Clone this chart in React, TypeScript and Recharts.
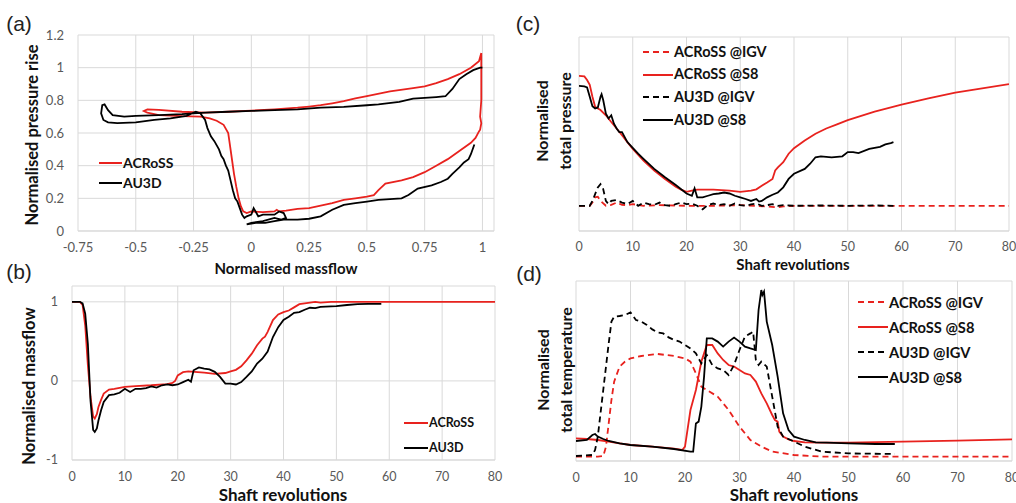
import React from 'react';
import { LineChart, Line, XAxis, YAxis, CartesianGrid, Legend } from 'recharts';

type P = [number, number];

// ---------- Panel (a): normalised pressure rise vs normalised massflow ----------
const loopAcross: P[] = [
  [0.995, 1.09], [0.985, 1.04], [0.95, 1.0], [0.9, 0.96], [0.85, 0.93], [0.8, 0.905], [0.75, 0.885],
  [0.7, 0.875], [0.6, 0.855], [0.5, 0.826], [0.45, 0.812], [0.4, 0.795], [0.35, 0.782], [0.3, 0.77],
  [0.25, 0.762], [0.2, 0.755], [0.1, 0.745], [0, 0.737], [-0.1, 0.73], [-0.2, 0.725], [-0.3, 0.73],
  [-0.4, 0.742], [-0.45, 0.745], [-0.465, 0.735], [-0.45, 0.725], [-0.4, 0.71], [-0.3, 0.703],
  [-0.22, 0.7], [-0.18, 0.69], [-0.15, 0.675], [-0.12, 0.65], [-0.1, 0.6], [-0.095, 0.55],
  [-0.085, 0.45], [-0.075, 0.35], [-0.065, 0.27], [-0.055, 0.2], [-0.045, 0.15], [-0.035, 0.12],
  [-0.02, 0.11], [0, 0.12], [0.05, 0.115], [0.1, 0.12], [0.11, 0.13], [0.12, 0.12], [0.15, 0.125],
  [0.2, 0.135], [0.25, 0.14], [0.3, 0.155], [0.35, 0.17], [0.4, 0.19], [0.45, 0.2], [0.5, 0.21],
  [0.53, 0.22], [0.55, 0.25], [0.58, 0.29], [0.65, 0.31], [0.7, 0.33], [0.75, 0.36], [0.8, 0.4],
  [0.85, 0.44], [0.9, 0.49], [0.95, 0.54], [0.97, 0.57], [0.985, 0.61], [0.99, 0.62], [0.995, 0.66],
  [0.99, 0.7], [0.995, 0.8], [0.995, 0.95], [0.995, 1.09],
];
const loopAu3d: P[] = [
  [1.0, 1.0], [0.99, 1.0], [0.96, 0.985], [0.93, 0.96], [0.9, 0.93], [0.87, 0.87], [0.84, 0.825],
  [0.8, 0.82], [0.75, 0.815], [0.7, 0.81], [0.64, 0.79], [0.55, 0.775], [0.5, 0.77], [0.4, 0.76],
  [0.3, 0.755], [0.2, 0.745], [0.1, 0.74], [0, 0.735], [-0.1, 0.73], [-0.2, 0.725], [-0.3, 0.715],
  [-0.4, 0.71], [-0.5, 0.705], [-0.55, 0.7], [-0.6, 0.71], [-0.62, 0.74], [-0.635, 0.775],
  [-0.645, 0.77], [-0.65, 0.72], [-0.64, 0.68], [-0.62, 0.665], [-0.58, 0.66], [-0.5, 0.665],
  [-0.42, 0.68], [-0.35, 0.69], [-0.28, 0.705], [-0.24, 0.73], [-0.22, 0.72], [-0.2, 0.68],
  [-0.19, 0.63], [-0.175, 0.58], [-0.16, 0.55], [-0.14, 0.5], [-0.13, 0.46], [-0.12, 0.44],
  [-0.11, 0.4], [-0.1, 0.37], [-0.09, 0.31], [-0.08, 0.25], [-0.07, 0.2], [-0.06, 0.18],
  [-0.05, 0.14], [-0.04, 0.1], [-0.03, 0.08], [-0.02, 0.09], [0, 0.1], [0.01, 0.14], [0.03, 0.09],
  [0.05, 0.1], [0.08, 0.1], [0.1, 0.1], [0.12, 0.12], [0.14, 0.11], [0.15, 0.08], [0.13, 0.07],
  [0.1, 0.08], [0.05, 0.06], [0.0, 0.05], [-0.02, 0.04], [0.02, 0.05], [0.06, 0.05], [0.1, 0.06],
  [0.14, 0.07], [0.16, 0.07], [0.2, 0.07], [0.25, 0.075], [0.3, 0.09], [0.35, 0.13], [0.4, 0.16],
  [0.45, 0.17], [0.5, 0.18], [0.55, 0.19], [0.6, 0.195], [0.65, 0.2], [0.68, 0.22], [0.72, 0.26],
  [0.78, 0.28], [0.82, 0.3], [0.85, 0.32], [0.87, 0.35], [0.9, 0.39], [0.92, 0.42], [0.94, 0.44],
  [0.95, 0.47], [0.96, 0.51], [0.965, 0.53],
];
const aXTicks = [-0.75, -0.5, -0.25, 0, 0.25, 0.5, 0.75, 1];
const aYTicks = [0, 0.2, 0.4, 0.6, 0.8, 1, 1.2];

// ---------- Panel (b): normalised massflow vs shaft revolutions ----------
const massAcross: P[] = [
  [0, 1], [1.5, 1], [2, 0.96], [2.5, 0.7], [3, 0.2], [3.5, -0.2], [4, -0.45], [4.3, -0.475],
  [4.7, -0.42], [5, -0.33], [5.5, -0.24], [6, -0.16], [7, -0.11], [8, -0.1], [10, -0.076],
  [12, -0.065], [15, -0.055], [18, -0.04], [19, -0.025], [19.5, 0], [20, 0.07], [21, 0.11],
  [22, 0.12], [25, 0.105], [27, 0.09], [29, 0.1], [30, 0.12], [31, 0.14], [32, 0.185], [33, 0.26],
  [34, 0.345], [35, 0.45], [36, 0.535], [36.5, 0.56], [37, 0.62], [38, 0.77], [39, 0.84],
  [40, 0.87], [41, 0.89], [42, 0.93], [43, 0.97], [44, 0.98], [45, 0.99], [46, 1.0], [47, 0.99],
  [49, 1.0], [55, 1.0], [80, 1.0],
];
const massAu3d: P[] = [
  [0, 1], [1.5, 1], [2, 0.98], [2.5, 0.85], [3, 0.47], [3.5, -0.25], [4, -0.62], [4.3, -0.645],
  [4.7, -0.6], [5, -0.5], [5.5, -0.37], [6, -0.265], [7, -0.18], [8, -0.17], [9, -0.15],
  [10, -0.1], [11, -0.14], [12, -0.1], [13, -0.1], [14, -0.09], [15, -0.07], [16, -0.085],
  [17, -0.055], [18, -0.045], [19, -0.055], [20, -0.045], [21, -0.015], [22, 0.015], [22.5, -0.01],
  [23, 0.135], [24, 0.17], [25, 0.155], [26, 0.145], [27, 0.115], [28, 0.05], [29, -0.035],
  [30, -0.035], [31, -0.045], [32, -0.015], [33, 0.05], [34, 0.12], [35, 0.22], [36, 0.28],
  [37, 0.37], [38, 0.555], [39, 0.68], [40, 0.77], [41, 0.81], [42, 0.86], [43, 0.87], [44, 0.9],
  [45, 0.925], [46, 0.92], [47, 0.935], [48, 0.94], [50, 0.945], [52, 0.96], [54, 0.97],
  [56, 0.975], [58.5, 0.975],
];
const revTicks = [0, 10, 20, 30, 40, 50, 60, 70, 80];
const bYTicks = [-1, 0, 1];

// ---------- Panel (c): normalised total pressure ----------
const presAcrossIgv: P[] = [
  [0, 0.78], [2, 0.78], [2.5, 0.88], [3, 1.04], [3.5, 1.06], [4, 0.93], [5, 0.78], [6, 0.81],
  [7, 0.88], [8, 0.81], [9, 0.8], [10, 0.83], [12, 0.78], [15, 0.8], [20, 0.78], [25, 0.78],
  [30, 0.8], [35, 0.76], [37, 0.73], [38, 0.76], [40, 0.78], [80, 0.78],
];
const presAcrossS8: P[] = [
  [0, 4.8], [1, 4.78], [1.5, 4.67], [2, 4.52], [2.5, 4.15], [3, 3.84], [4, 3.74], [5, 3.58],
  [6, 3.37], [7, 3.17], [8, 2.96], [9, 2.75], [10, 2.54], [12, 2.18], [14, 1.87], [16, 1.61],
  [18, 1.37], [19, 1.28], [20, 1.21], [21, 1.25], [22, 1.28], [25, 1.28], [28, 1.25], [30, 1.21],
  [32, 1.25], [33, 1.29], [34, 1.4], [35, 1.5], [36, 1.61], [36.5, 1.87], [37, 1.97], [38, 2.13],
  [39, 2.39], [40, 2.56], [42, 2.8], [44, 3.01], [46, 3.17], [48, 3.3], [50, 3.43], [55, 3.69],
  [60, 3.91], [65, 4.1], [70, 4.28], [75, 4.41], [80, 4.54],
];
const presAu3dIgv: P[] = [
  [0, 0.78], [2, 0.78], [2.5, 0.93], [3, 1.14], [3.5, 1.35], [4, 1.45], [4.5, 1.3], [5, 0.93],
  [5.5, 0.83], [6, 0.93], [7, 0.96], [8, 0.88], [9, 0.83], [10, 0.93], [11, 0.78], [12, 0.88],
  [13, 0.83], [14, 0.81], [15, 0.88], [16, 0.8], [17, 0.78], [18, 0.83], [19, 0.88], [20, 0.83],
  [21, 0.85], [22, 0.78], [23, 0.67], [24, 0.81], [25, 0.85], [26, 0.8], [27, 0.83], [28, 0.78],
  [29, 0.85], [30, 0.8], [31, 0.78], [32, 0.82], [33, 0.85], [34, 0.78], [35, 0.8], [36, 0.83],
  [37, 0.78], [38, 0.8], [40, 0.78], [45, 0.79], [50, 0.78], [55, 0.79], [58.5, 0.78],
];
const presAu3dS8: P[] = [
  [0, 4.49], [1, 4.47], [1.5, 4.44], [2, 4.15], [2.5, 3.86], [3, 3.79], [3.5, 3.82], [4, 4.15],
  [4.2, 4.23], [4.5, 4.05], [5, 3.63], [5.5, 3.48], [6, 3.58], [6.5, 3.32], [7, 3.17], [7.5, 3.06],
  [8, 3.06], [9, 2.75], [10, 2.57], [11, 2.39], [12, 2.23], [14, 1.92], [16, 1.66], [18, 1.42],
  [20, 1.16], [21, 1.09], [21.5, 1.32], [22, 1.04], [23, 1.04], [24, 1.09], [25, 1.14], [26, 1.16],
  [27, 1.19], [28, 1.16], [29, 1.09], [30, 1.04], [31, 0.99], [32, 0.93], [33, 0.99], [33.5, 0.91],
  [34, 0.93], [35, 1.04], [36, 1.12], [37, 1.19], [38, 1.35], [39, 1.61], [40, 1.77], [42, 1.92],
  [43, 2.08], [44, 2.28], [45, 2.31], [47, 2.28], [49, 2.31], [50, 2.44], [51, 2.44], [52, 2.41],
  [54, 2.54], [56, 2.6], [57, 2.68], [58, 2.72], [58.5, 2.75],
];
const cYTicks = [0, 1, 2, 3, 4, 5, 6];

// ---------- Panel (d): normalised total temperature ----------
const tempAcrossIgv: P[] = [
  [0, 0.22], [4, 0.22], [5, 0.25], [5.5, 0.72], [6, 1.88], [6.5, 3.05], [7, 3.97], [8, 4.72],
  [9, 4.97], [10, 5.13], [12, 5.25], [15, 5.35], [18, 5.25], [20, 5.13], [21, 4.97], [22, 4.38],
  [23, 3.72], [24, 3.55], [26, 3.22], [28, 2.55], [30, 1.72], [32, 1.05], [34, 0.72], [36, 0.47],
  [40, 0.3], [45, 0.22], [80, 0.22],
];
const tempAcrossS8: P[] = [
  [0, 1.13], [2, 1.1], [4, 1.05], [6, 0.97], [8, 0.88], [10, 0.8], [14, 0.72], [18, 0.62],
  [19.5, 0.55], [20, 0.72], [21, 2.55], [22, 3.55], [23, 4.97], [24, 5.8], [25, 5.8], [26, 5.38],
  [27, 5.05], [28, 4.8], [29, 4.72], [30, 4.55], [31, 4.38], [32, 4.3], [33, 3.97], [34, 3.38],
  [35, 2.88], [36, 2.3], [36.5, 2.05], [37, 1.97], [37.3, 1.47], [38, 1.22], [39, 1.08], [40, 1.0],
  [42, 0.93], [45, 0.92], [50, 0.92], [60, 0.97], [70, 1.02], [80, 1.08],
];
const tempAu3dIgv: P[] = [
  [0, 0.25], [3, 0.3], [3.5, 0.55], [4, 1.22], [5, 3.55], [6, 5.88], [6.5, 6.97], [7, 7.22],
  [8, 7.25], [9, 7.3], [10, 7.43], [11, 7.05], [12, 6.97], [13, 6.8], [14, 6.58], [15, 6.42],
  [16, 6.38], [17, 6.18], [18, 6.05], [19, 5.97], [20, 5.8], [21, 5.63], [22, 5.38], [23, 4.88],
  [24, 5.3], [25, 4.8], [26, 4.63], [27, 4.55], [28, 4.3], [29, 4.8], [30, 5.55], [31, 6.22],
  [32, 6.38], [32.5, 6.47], [33, 5.05], [33.5, 4.8], [34, 4.97], [35, 4.72], [36, 3.22], [37, 1.72],
  [38, 1.22], [40, 0.97], [42, 0.72], [45, 0.47], [50, 0.38], [58.5, 0.35],
];
const tempAu3dS8: P[] = [
  [0, 1.0], [2, 1.05], [3, 1.3], [3.5, 1.35], [4, 1.22], [5, 1.1], [6, 1.0], [8, 0.88],
  [10, 0.8], [14, 0.72], [18, 0.6], [21, 0.47], [21.5, 0.47], [22, 1.88], [22.5, 1.97], [23, 2.72],
  [23.5, 4.22], [24, 6.13], [25, 6.13], [26, 5.97], [27, 5.72], [28, 5.97], [29, 6.17], [30, 5.97],
  [31, 5.72], [32, 5.63], [33, 5.55], [33.5, 7.55], [34, 8.55], [34.2, 8.3], [34.5, 8.47],
  [35, 6.97], [36, 5.8], [37, 4.22], [38, 2.38], [39, 1.55], [40, 1.22], [42, 1.05], [44, 0.93],
  [46, 0.92], [50, 0.88], [55, 0.85], [58.5, 0.85],
];
const dYTicks = [0, 1, 2, 3, 4, 5, 6, 7, 8, 9];

// ---------- styling ----------
const RED = '#e8221e';
const BLACK = '#000000';
const GRID = '#d9d9d9';
const TICK = '#595959';
const FONT = 'Lato, "Open Sans", sans-serif';

type Series = { name: string; pts: P[]; color: string; dashed?: boolean };

const toRows = (pts: P[]) => pts.map(([x, y]) => ({ x, y }));

function LegendBox({ items, lineLen, rowH, fontSize }: { items: Series[]; lineLen: number; rowH: number; fontSize: number }) {
  return (
    <div style={{ fontFamily: FONT }}>
      {items.map((it) => (
        <div key={it.name} style={{ display: 'flex', alignItems: 'center', height: rowH, whiteSpace: 'nowrap' }}>
          <svg width={lineLen} height={4} style={{ display: 'block' }}>
            <line x1={0} x2={lineLen} y1={2} y2={2} stroke={it.color} strokeWidth={2}
              strokeDasharray={it.dashed ? '6 4' : undefined} />
          </svg>
          <span style={{ marginLeft: 1, fontWeight: 700, fontSize, color: '#111', lineHeight: 1 }}>{it.name}</span>
        </div>
      ))}
    </div>
  );
}

type PanelProps = {
  left: number; top: number; width: number; height: number;
  margin: { top: number; right: number; bottom: number; left: number };
  yWidth: number; xHeight: number;
  xDomain: [number, number]; xTicks: number[];
  yDomain: [number, number]; yTicks: number[]; showY: boolean;
  tickFont: number; tickMargin: number; series: Series[];
  legend: { left: number; top: number; lineLen: number; rowH: number; fontSize: number };
};

function Panel(p: PanelProps) {
  return (
    <div style={{ position: 'absolute', left: p.left, top: p.top, width: p.width, height: p.height }}>
      <LineChart width={p.width} height={p.height} margin={p.margin} style={{ fontFamily: FONT }}>
        <CartesianGrid stroke={GRID} strokeWidth={1} />
        <XAxis type="number" dataKey="x" domain={p.xDomain} ticks={p.xTicks} interval={0}
          allowDataOverflow height={p.xHeight} tickLine={false} tickMargin={p.tickMargin}
          axisLine={{ stroke: GRID }} tick={{ fill: TICK, fontSize: p.tickFont, fontFamily: FONT }} />
        <YAxis type="number" domain={p.yDomain} ticks={p.yTicks} interval={0} allowDataOverflow
          width={p.yWidth} axisLine={false} tickLine={false} tickMargin={8}
          tick={p.showY ? { fill: TICK, fontSize: p.tickFont, fontFamily: FONT } : false} />
        {p.series.map((s) => (
          <Line key={s.name} name={s.name} data={toRows(s.pts)} dataKey="y" type="linear"
            stroke={s.color} strokeWidth={1.8} dot={false} activeDot={false}
            strokeDasharray={s.dashed ? '6 4' : undefined} isAnimationActive={false} />
        ))}
        <Legend layout="horizontal" verticalAlign="middle" align="center"
          wrapperStyle={{ position: 'absolute', left: p.legend.left, top: p.legend.top, width: 'auto', height: 'auto' }}
          content={() => <LegendBox items={p.series} lineLen={p.legend.lineLen} rowH={p.legend.rowH} fontSize={p.legend.fontSize} />} />
      </LineChart>
    </div>
  );
}

function Txt({ x, y, size, bold, rotate, children, family }: { x: number; y: number; size: number; bold?: boolean; rotate?: boolean; children: React.ReactNode; family?: string }) {
  return (
    <div style={{
      position: 'absolute', left: x, top: y, transform: `translate(-50%, -50%)${rotate ? ' rotate(-90deg)' : ''}`,
      fontFamily: family || FONT, fontSize: size, fontWeight: bold ? 700 : 400, whiteSpace: 'nowrap',
      textAlign: 'center', lineHeight: rotate ? '23px' : 1, color: bold ? '#111' : '#222',
    }}>{children}</div>
  );
}

export default function App() {
  const aSeries: Series[] = [
    { name: 'ACRoSS', pts: loopAcross, color: RED },
    { name: 'AU3D', pts: loopAu3d, color: BLACK },
  ];
  const bSeries: Series[] = [
    { name: 'ACRoSS', pts: massAcross, color: RED },
    { name: 'AU3D', pts: massAu3d, color: BLACK },
  ];
  const cSeries: Series[] = [
    { name: 'ACRoSS @IGV', pts: presAcrossIgv, color: RED, dashed: true },
    { name: 'ACRoSS @S8', pts: presAcrossS8, color: RED },
    { name: 'AU3D @IGV', pts: presAu3dIgv, color: BLACK, dashed: true },
    { name: 'AU3D @S8', pts: presAu3dS8, color: BLACK },
  ];
  const dSeries: Series[] = [
    { name: 'ACRoSS @IGV', pts: tempAcrossIgv, color: RED, dashed: true },
    { name: 'ACRoSS @S8', pts: tempAcrossS8, color: RED },
    { name: 'AU3D @IGV', pts: tempAu3dIgv, color: BLACK, dashed: true },
    { name: 'AU3D @S8', pts: tempAu3dS8, color: BLACK },
  ];
  return (
    <div style={{ position: 'absolute', left: 0, top: 0, width: 1016, height: 503, background: '#fff', overflow: 'hidden' }}>
      <Panel left={0} top={0} width={510} height={260}
        margin={{ top: 35, right: 16, bottom: 0, left: 0 }} yWidth={78} xHeight={29}
        xDomain={[-0.75, 1.05]} xTicks={aXTicks} yDomain={[0, 1.2]} yTicks={aYTicks} showY
        tickFont={13} tickMargin={6} series={aSeries}
        legend={{ left: 99, top: 153, lineLen: 23, rowH: 20, fontSize: 14 }} />
      <Panel left={0} top={260} width={510} height={243}
        margin={{ top: 26, right: 15, bottom: 0, left: 0 }} yWidth={72} xHeight={43}
        xDomain={[0, 80]} xTicks={revTicks} yDomain={[-1, 1.2]} yTicks={bYTicks} showY
        tickFont={12.5} tickMargin={6} series={bSeries}
        legend={{ left: 404, top: 150.5, lineLen: 24, rowH: 25, fontSize: 12.5 }} />
      <Panel left={510} top={0} width={506} height={260}
        margin={{ top: 37, right: 7, bottom: 0, left: 0 }} yWidth={69} xHeight={29}
        xDomain={[0, 80]} xTicks={revTicks} yDomain={[0, 6]} yTicks={cYTicks} showY={false}
        tickFont={12.5} tickMargin={5} series={cSeries}
        legend={{ left: 133, top: 40.6, lineLen: 30, rowH: 22.7, fontSize: 14.5 }} />
      <Panel left={510} top={260} width={506} height={243}
        margin={{ top: 21, right: 4, bottom: 0, left: 0 }} yWidth={66} xHeight={42}
        xDomain={[0, 80]} xTicks={revTicks} yDomain={[0, 9]} yTicks={dYTicks} showY={false}
        tickFont={12.5} tickMargin={6} series={dSeries}
        legend={{ left: 348, top: 29.5, lineLen: 30, rowH: 25, fontSize: 14.7 }} />

      <Txt x={19} y={23} size={21} family='"Liberation Sans", Arial, sans-serif'>(a)</Txt>
      <Txt x={19} y={271} size={21} family='"Liberation Sans", Arial, sans-serif'>(b)</Txt>
      <Txt x={528} y={23} size={21} family='"Liberation Sans", Arial, sans-serif'>(c)</Txt>
      <Txt x={529} y={273} size={21} family='"Liberation Sans", Arial, sans-serif'>(d)</Txt>

      <Txt x={32} y={135} size={16.5} bold rotate>Normalised pressure rise</Txt>
      <Txt x={286} y={268} size={15} bold>Normalised massflow</Txt>
      <Txt x={29} y={386} size={16.5} bold rotate>Normalised massflow</Txt>
      <Txt x={283} y={494} size={17} bold>Shaft revolutions</Txt>
      <Txt x={552.5} y={121} size={16} bold rotate>Normalised<br />total pressure</Txt>
      <Txt x={793} y={263.5} size={15} bold>Shaft revolutions</Txt>
      <Txt x={553.5} y={370} size={16} bold rotate>Normalised<br />total temperature</Txt>
      <Txt x={794} y={494} size={17} bold>Shaft revolutions</Txt>
    </div>
  );
}
